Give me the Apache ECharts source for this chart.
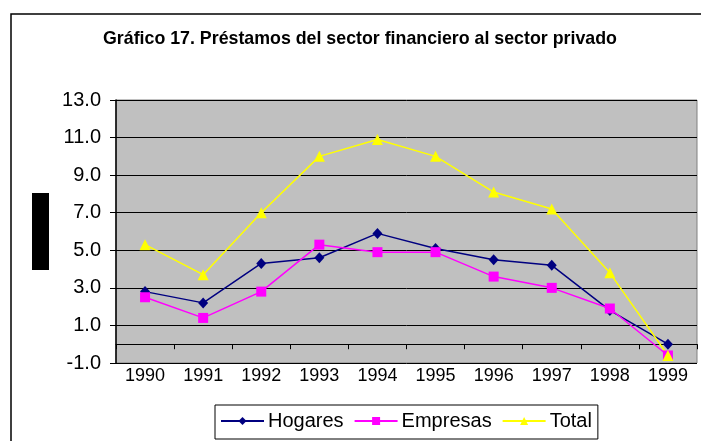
<!DOCTYPE html>
<html>
<head>
<meta charset="utf-8">
<script src="https://cdn.jsdelivr.net/npm/echarts@6/dist/echarts.min.js"></script>
<style>
  html, body { margin: 0; padding: 0; background: #fff; }
  #chart { width: 701px; height: 441px; }
</style>
</head>
<body>
<div id="chart"></div>
<script>
// datos
const years = ["1990", "1991", "1992", "1993", "1994", "1995", "1996", "1997", "1998", "1999"];
const hogares = [2.8, 2.2, 4.3, 4.6, 5.9, 5.1, 4.5, 4.2, 1.8, 0.0];
const empresas = [2.5, 1.4, 2.8, 5.3, 4.9, 4.9, 3.6, 3.0, 1.9, -0.6];
const total = [5.3, 3.7, 7.0, 10.0, 10.9, 10.0, 8.1, 7.2, 3.8, -0.6];

const fontName = "'Liberation Sans', Arial, sans-serif";

const chart = echarts.init(document.getElementById("chart"));

const option = {
    animation: false,
    title: {
        text: "Gráfico 17. Préstamos del sector financiero al sector privado",
        left: 103,
        top: 30,
        padding: 0,
        textStyle: {
            fontFamily: fontName,
            fontSize: 17.8,
            fontWeight: "bold",
            color: "#000",
        },
    },
    graphic: [
        {
            // marco exterior
            type: "rect",
            shape: { x: 11, y: 14, width: 800, height: 500 },
            style: { fill: "none", stroke: "#000", lineWidth: 1.5 },
            silent: true,
        },
        {
            type: "rect",
            shape: { x: 32, y: 193, width: 17, height: 77 },
            style: { fill: "#000" },
            silent: true,
        },
    ],
    legend: {
        left: 215,
        top: 405,
        padding: [6, 6, 8, 5],
        itemWidth: 43,
        itemHeight: 10,
        itemGap: 10,
        borderColor: "#000",
        borderWidth: 1,
        data: ["Hogares", "Empresas", "Total"],
        textStyle: {
            fontFamily: fontName,
            fontSize: 20,
            color: "#000",
            padding: [0, 0, 0, -1],
        },
    },
    grid: {
        left: 116,
        right: 4,
        top: 100,
        bottom: 78,
        show: true,
        backgroundColor: "#c0c0c0",
        borderColor: "#808080",
        borderWidth: 1,
    },
    xAxis: [
        {
            type: "category",
            data: years,
            position: "bottom",
            axisLine: { onZero: true, lineStyle: { color: "#000", width: 1 } },
            axisTick: { show: true, length: 5, lineStyle: { color: "#000" } },
            axisLabel: { show: false },
            splitLine: { show: false },
        },
        {
            type: "category",
            data: years,
            position: "bottom",
            axisLine: { show: false, onZero: false },
            axisTick: { show: false },
            axisLabel: {
                fontFamily: fontName,
                fontSize: 18,
                color: "#000",
                margin: 4,
            },
            splitLine: { show: false },
        },
    ],
    yAxis: {
        type: "value",
        min: -1,
        max: 13,
        interval: 2,
        axisLine: { show: true, lineStyle: { color: "#000", width: 1.5 } },
        axisTick: { show: true, length: 6, lineStyle: { color: "#000" } },
        axisLabel: {
            fontFamily: fontName,
            fontSize: 20,
            color: "#000",
            margin: 15,
            formatter: (v) => v.toFixed(1),
        },
        splitLine: { show: true, lineStyle: { color: "#000", width: 1 } },
    },
    series: [
        {
            name: "Hogares",
            type: "line",
            data: hogares,
            symbol: "diamond",
            symbolSize: [10, 11],
            color: "#000080",
            lineStyle: { color: "#000080", width: 1.5 },
            itemStyle: { color: "#000080" },
        },
        {
            name: "Empresas",
            type: "line",
            data: empresas,
            symbol: "rect",
            symbolSize: 10,
            color: "#ff00ff",
            lineStyle: { color: "#ff00ff", width: 1.5 },
            itemStyle: { color: "#ff00ff" },
        },
        {
            name: "Total",
            type: "line",
            data: total,
            symbol: "triangle",
            symbolSize: 11,
            color: "#ffff00",
            lineStyle: { color: "#ffff00", width: 1.5 },
            itemStyle: { color: "#ffff00" },
        },
    ],
};

chart.setOption(option);
</script>
</body>
</html>
